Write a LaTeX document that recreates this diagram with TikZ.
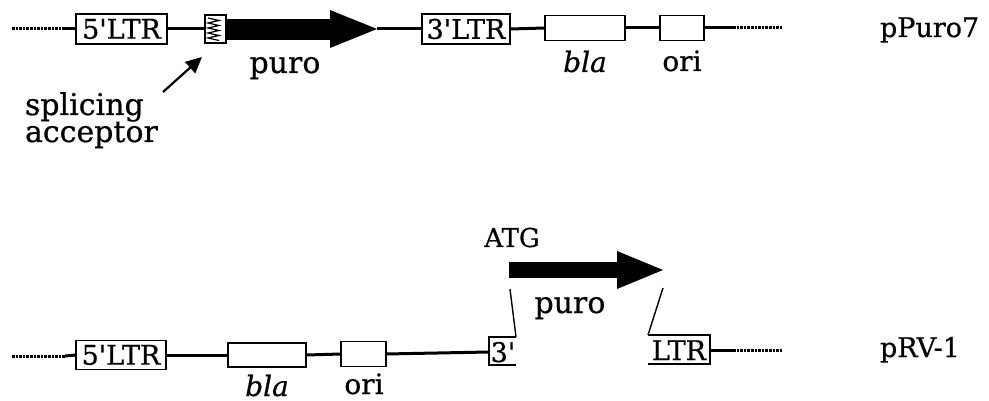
\documentclass[tikz,border=0pt]{standalone}
\usepackage{fontspec}
\setmainfont{DejaVu Serif}[FakeBold=0.6]
\usetikzlibrary{arrows.meta}
\newcommand{\q}{\textquotesingle}
\begin{document}
\begin{tikzpicture}[x=1pt,y=-1pt,
  every node/.style={inner sep=0pt, outer sep=0pt},
  txt/.style={font=\fontsize{27}{32}\selectfont, anchor=base},
  bigtxt/.style={font=\fontsize{30}{34}\selectfont, anchor=base},
  seg/.style={draw, line width=1.9pt, fill=white, font=\fontsize{27}{32}\selectfont},
  bb/.style={line width=3pt},
  dots/.style={line width=3pt, dash pattern=on 2.6pt off 1pt},
  thin/.style={line width=1.4pt}]
\useasboundingbox (0,0) rectangle (989,401);

% ---------------- pPuro7 ----------------
\coordinate (t0) at (12,29);
\coordinate (t1) at (65,29);
\node[seg, minimum width=91pt, minimum height=30pt] (ltrA) at (121.5,29) {5\q LTR};
\node[draw, line width=1.9pt, fill=white, minimum width=21pt, minimum height=28pt] (sa) at (215.5,29) {};
\draw[line width=1.2pt] (208,18) -- (219,20.5) -- (208,23) -- (219,25.5) -- (208,28)
  -- (219,30.5) -- (208,33) -- (219,35.5) -- (208,38) -- (219,40.5);
% puro cassette
\coordinate (pA0) at (226,19);
\coordinate (pA1) at (330,40);
\coordinate (pAtip) at (377,29);
\fill (pA0) rectangle (pA1);
\fill (330,10) -- (pAtip) -- (330,48) -- cycle;
\node[seg, minimum width=88pt, minimum height=30pt] (ltrB) at (466,29) {3\q LTR};
\node[seg, minimum width=80pt, minimum height=25pt] (blaA) at (585,28) {};
\node[seg, minimum width=44pt, minimum height=25pt] (oriA) at (682,28) {};
\coordinate (t2) at (733,28);
\coordinate (t3) at (783,28);

\draw[dots] (t0) -- (t1);
\draw[bb] (t1) -- (ltrA.west);
\draw[bb] (ltrA.east) -- (sa.west);
\draw[bb] (pAtip) -- (ltrB.west);
\draw[bb] (ltrB.east) -- (blaA.west);
\draw[bb] (blaA.east) -- (oriA.west);
\draw[bb] (oriA.east) -- (t2);
\draw[dots] (t2) -- (t3);

\node[txt, font=\fontsize{30}{34}\selectfont] (puroA) at (285,73) {puro};
\node[txt, font=\fontsize{28}{32}\itshape] (blaAl) at (585,72) {bla};
\node[txt, font=\fontsize{28}{32}\selectfont] (oriAl) at (682,71) {ori};
\node[txt, anchor=base west, font=\fontsize{27}{30}\selectfont] (nameA) at (880,37) {pPuro7};

\node[bigtxt, anchor=base west] (spl) at (25,115) {splicing};
\node[bigtxt, anchor=base west] (acc) at (25,142) {acceptor};
\coordinate (splS) at (163,92);
\coordinate (splT) at (202,57);
\draw[line width=2.2pt, -{Triangle[length=16pt,width=15pt]}] (splS) -- (splT);

% ---------------- pRV-1 ----------------
\coordinate (b0) at (12,356);
\coordinate (b1) at (65,356);
\node[seg, minimum width=90pt, minimum height=29pt] (ltrC) at (121,355) {5\q LTR};
\node[seg, minimum width=78pt, minimum height=24pt] (blaB) at (267,355) {};
\node[seg, minimum width=45pt, minimum height=25pt] (oriB) at (363.5,354) {};
% cut ends of the 3' LTR
\coordinate (c3tl) at (489,337);
\coordinate (c3tr) at (516,337);
\coordinate (c3bl) at (489,365);
\coordinate (c3br) at (516,365);
\draw[line width=1.9pt] (c3tr) -- (c3tl) -- (c3bl) -- (c3br);
\node[txt] (c3) at (503,362) {3\q};
\coordinate (c3w) at (489,352);
\coordinate (cLtl) at (648,335);
\coordinate (cLtr) at (710,335);
\coordinate (cLbl) at (648,364);
\coordinate (cLbr) at (710,364);
\draw[line width=1.9pt] (cLtl) -- (cLtr) -- (cLbr) -- (cLbl);
\node[txt] (cL) at (679,360) {LTR};
\coordinate (cLe) at (710,350);
\coordinate (b2) at (733,350);
\coordinate (b3) at (782,350);

\draw[dots] (b0) -- (b1);
\draw[bb] (b1) -- (ltrC.west);
\draw[bb] (ltrC.east) -- (blaB.west);
\draw[bb] (blaB.east) -- (oriB.west);
\draw[bb] (oriB.east) -- (c3w);
\draw[bb] (cLe) -- (b2);
\draw[dots] (b2) -- (b3);

% inserted puro
\coordinate (pB0) at (509,262);
\coordinate (pB1) at (617,278);
\coordinate (pBtip) at (663,270);
\fill (pB0) rectangle (pB1);
\fill (617,251) -- (pBtip) -- (617,289) -- cycle;
\coordinate (iL) at (510,289);
\coordinate (iR) at (663,288);
\draw[thin] (c3tr) -- (iL);
\draw[thin] (cLtl) -- (iR);

\node[txt, font=\fontsize{26}{30}\selectfont] (atg) at (512,247) {ATG};
\node[bigtxt] (puroB) at (570,313) {puro};
\node[txt, font=\fontsize{28}{32}\itshape] (blaBl) at (267,396) {bla};
\node[txt, font=\fontsize{28}{32}\selectfont] (oriBl) at (364,394) {ori};
\node[txt, anchor=base west, font=\fontsize{27}{30}\selectfont] (nameB) at (880,357) {pRV-1};
\end{tikzpicture}
\end{document}
